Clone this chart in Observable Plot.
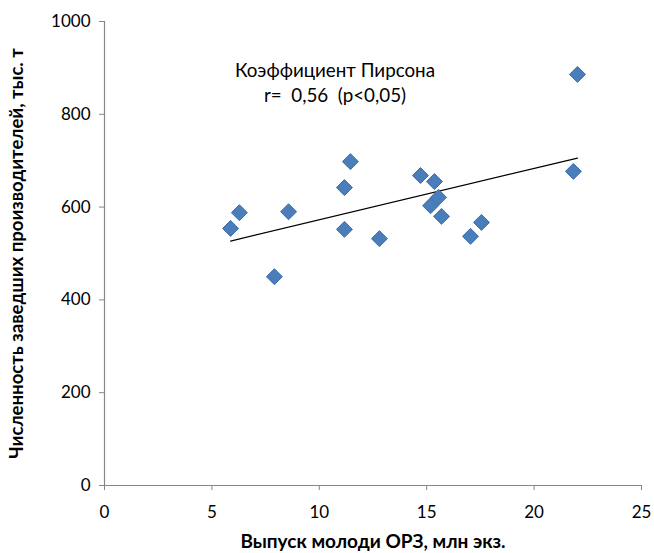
<!DOCTYPE html>
<html><head><meta charset="utf-8">
<script src="https://cdn.jsdelivr.net/npm/d3@7"></script>
<script src="https://cdn.jsdelivr.net/npm/@observablehq/plot@0.6"></script>
<style>body{margin:0;background:#fff}</style>
</head><body><div id="chart"></div>
<script>
const releaseMln = [5.87, 6.28, 7.91, 8.57, 11.17, 11.17, 11.45, 12.80, 14.71, 15.36, 15.55, 15.18, 15.69, 17.04, 17.55, 21.83, 22.02];
const spawners   = [554, 588, 450, 590, 642, 552, 698, 532, 668, 655, 621, 603, 580, 537, 567, 677, 886];
const xTicks = [0, 5, 10, 15, 20, 25];
const yTicks = [0, 200, 400, 600, 800, 1000];
const xLabel = "Выпуск молоди ОРЗ, млн экз.";
const yLabel = "Численность заведших производителей, тыс. т";
const noteLines = ["Коэффициент Пирсона", "r=  0,56  (p<0,05)"];

const points = releaseMln.map((x, i) => ({x, y: spawners[i]}));
const axisColor = "#868686";

const chart = Plot.plot({
  width: 654, height: 553,
  marginTop: 21, marginBottom: 68, marginLeft: 104, marginRight: 13,
  style: {fontFamily: "Lato, 'Open Sans', sans-serif", fontSize: "17px", color: "#000", background: "#fff"},
  x: {domain: [0, 25]},
  y: {domain: [0, 1000]},
  marks: [
    Plot.axisX({ticks: xTicks, tickFormat: d => String(d), tickSize: 5, tickPadding: 15, stroke: axisColor, label: null, fontSize: 17, fill: "#000"}),
    Plot.axisY({ticks: yTicks, tickFormat: d => String(d), tickSize: 5, tickPadding: 9, stroke: axisColor, label: null, fontSize: 17, fill: "#000"}),
    Plot.ruleY([0], {stroke: axisColor, strokeWidth: 1.2}),
    Plot.ruleX([0], {stroke: axisColor, strokeWidth: 1.2}),
    Plot.linearRegressionY(points, {x: "x", y: "y", ci: 0, stroke: "#000", strokeWidth: 1.2}),
    Plot.dot(points, {x: "x", y: "y", symbol: "diamond2", r: 7.2, fill: "#4A7EBB", stroke: "#3D6FA9", strokeWidth: 1}),
    Plot.text([noteLines.join("\n")], {frameAnchor: "top", dx: -38, dy: 37, textAnchor: "middle", fontSize: 18.8, lineHeight: 1.35, fill: "#000"}),
    Plot.text([xLabel], {frameAnchor: "bottom", dy: 62, textAnchor: "middle", fontSize: 19, fontWeight: "bold", fill: "#000"}),
    Plot.text([yLabel], {frameAnchor: "left", dx: -87, rotate: -90, textAnchor: "middle", fontSize: 18.6, fontWeight: "bold", fill: "#000"})
  ]
});
document.getElementById("chart").appendChild(chart);
</script>
</body></html>
